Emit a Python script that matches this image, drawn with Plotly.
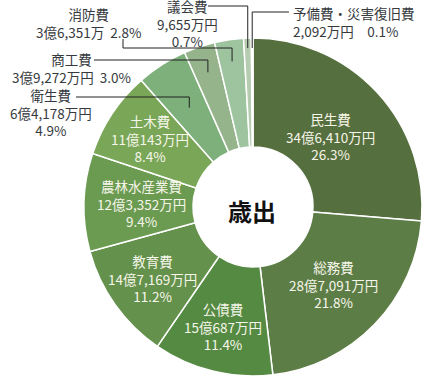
import math
import plotly.graph_objects as go

# ---------------- data ----------------
categories = ["民生費", "総務費", "公債費", "教育費", "農林水産業費", "土木費",
              "衛生費", "商工費", "消防費", "議会費", "予備費・災害復旧費"]
values_man_yen = [346410, 287091, 150687, 147169, 123352, 110143,
                  64178, 39272, 36351, 9655, 2092]
amount_labels = ["34億6,410万円", "28億7,091万円", "15億687万円", "14億7,169万円",
                 "12億3,352万円", "11億143万円", "6億4,178万円", "3億9,272万円",
                 "3億6,351万", "9,655万円", "2,092万円"]
percent_labels = ["26.3%", "21.8%", "11.4%", "11.2%", "9.4%", "8.4%",
                  "4.9%", "3.0%", "2.8%", "0.7%", "0.1%"]
center_title = "歳出"

# ---------------- style ----------------
colors = ["#566f3e", "#5d7d46", "#558a42", "#64914b", "#6b9a51", "#79a657",
          "#7db07a", "#95b48b", "#9ec49f", "#b6ccb0", "#c9d8c4"]
W, H = 434, 380
CX, CY, R = 253, 207, 169          # pie centre / radius in pixels
HOLE = 0.355
FONT = "Noto Sans CJK JP"
FS = 13.5
inside_count = 6
inside_r = [0.62, 0.66, 0.73, 0.73, 0.66, 0.73]   # label radius as fraction of R
outside_r = [118, 142, 147, 159, 159]              # leader end radius (px)


def px(x):
    return x / W


def py(y):
    return 1 - y / H


total = sum(values_man_yen)
mid_angles = []
cum = 0
for v in values_man_yen:
    mid_angles.append((cum + v / 2) / total * 360)
    cum += v


def polar(angle_deg, r):
    a = math.radians(angle_deg)
    return CX + r * math.sin(a), CY - r * math.cos(a)


fig = go.Figure(go.Pie(
    labels=categories,
    values=values_man_yen,
    sort=False,
    direction="clockwise",
    rotation=0,
    hole=HOLE,
    marker=dict(colors=colors, line=dict(color="white", width=1.5)),
    textinfo="none",
    hoverinfo="skip",
    showlegend=False,
    domain=dict(x=[px(CX - R), px(CX + R)], y=[py(CY + R), py(CY - R)]),
))

annotations = []
# inside labels
for i in range(inside_count):
    x, y = polar(mid_angles[i], inside_r[i] * R)
    annotations.append(dict(
        x=px(x), y=py(y), xref="paper", yref="paper", showarrow=False,
        text=f"{categories[i]}<br>{amount_labels[i]}<br>{percent_labels[i]}",
        font=dict(family=FONT, size=FS, color="#f6f6ea"),
        xanchor="center", yanchor="middle", align="center",
    ))

# centre title
annotations.append(dict(
    x=px(CX - 1), y=py(CY + 3), xref="paper", yref="paper", showarrow=False,
    text=f"<b>{center_title}</b>", font=dict(family=FONT, size=24, color="#111"),
    xanchor="center", yanchor="middle",
))

# outside labels: (text, x, y, xanchor, align)
out_text_color = "#363a3e"
outside_specs = [
    (f"{categories[6]}<br>{amount_labels[6]}<br>{percent_labels[6]}", 51, 113, "center", "center"),
    (f"{categories[7]}<br>{amount_labels[7]}\u00a0\u00a0{percent_labels[7]}", 71, 68, "center", "center"),
    (f"{categories[8]}<br>{amount_labels[8]}\u00a0\u00a0{percent_labels[8]}", 88, 23, "center", "center"),
    (f"{categories[9]}<br>{amount_labels[9]}<br>{percent_labels[9]}", 187, 24, "center", "center"),
    (f"{categories[10]}<br>{amount_labels[10]}\u3000{percent_labels[10]}", 291, 22, "left", "left"),
]
for text, x, y, xa, al in outside_specs:
    annotations.append(dict(
        x=px(x), y=py(y), xref="paper", yref="paper", showarrow=False,
        text=text, font=dict(family=FONT, size=FS, color=out_text_color),
        xanchor=xa, yanchor="middle", align=al,
    ))

# leader lines
ends = [polar(mid_angles[6 + k], outside_r[k]) for k in range(5)]
paths_px = [
    [(76, 97), (ends[0][0], 97), ends[0]],
    [(94, 60), (ends[1][0], 60), ends[1]],
    [(123, 39), (123, 48), (ends[2][0], 48), ends[2]],
    [(208, 6), (ends[3][0], 6), ends[3]],
    [(289, 12), (ends[4][0], 12), ends[4]],
]
shapes = []
for pts in paths_px:
    for (x0, y0), (x1, y1) in zip(pts[:-1], pts[1:]):
        shapes.append(dict(type="line", xref="paper", yref="paper",
                           x0=px(x0), y0=py(y0), x1=px(x1), y1=py(y1),
                           line=dict(color="#222222", width=1)))

fig.update_layout(
    width=W, height=H,
    margin=dict(l=0, r=0, t=0, b=0),
    paper_bgcolor="white", plot_bgcolor="white",
    font=dict(family=FONT),
    annotations=annotations,
    shapes=shapes,
)

fig.write_html(
    "out.html",
    config={"displayModeBar": False, "staticPlot": True},
    post_script="document.body.style.margin='0';document.body.style.overflow='hidden';",
)
